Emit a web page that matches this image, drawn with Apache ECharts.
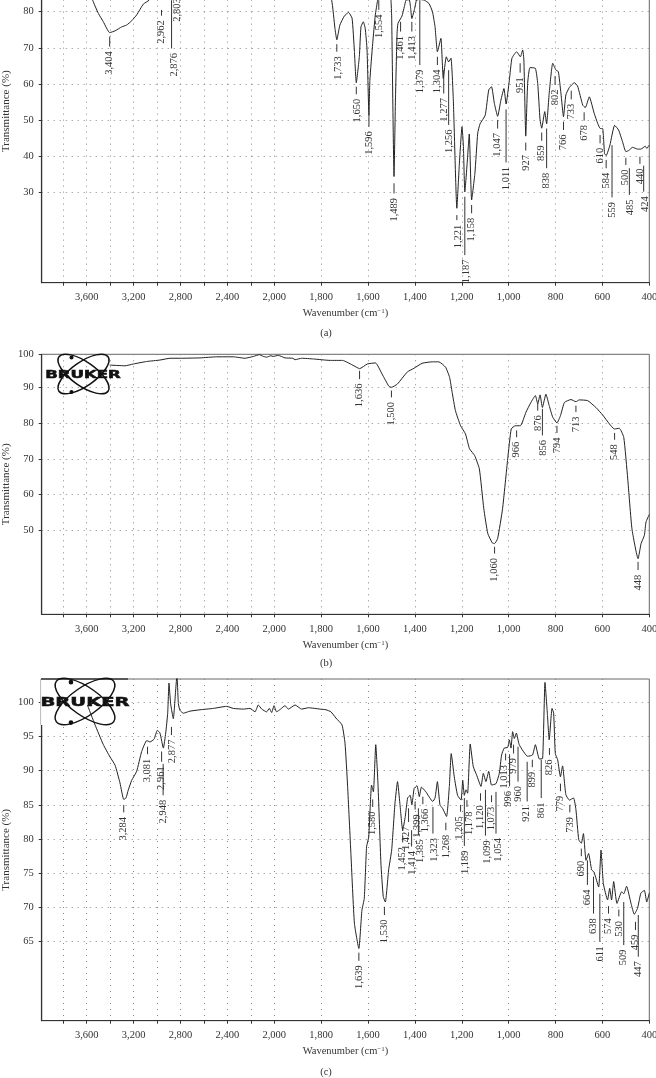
<!DOCTYPE html>
<html>
<head>
<meta charset="utf-8">
<style>html,body{margin:0;padding:0;background:#fff}#chart{width:656px;height:1078px}</style>
<script src="https://cdn.jsdelivr.net/npm/echarts@6/dist/echarts.min.js"></script>
</head>
<body>
<div id="chart"></div>
<script>
// FTIR spectra: wavenumber (cm-1) and transmittance (%) for samples a, b and c.
const waveA = [3980,3800,3600,3549,3500,3458,3404,3358,3301,3259,3216,3174,3117,3068,3000,2962,2930,2876,2840,2803,2760,2400,2000,1800,1755,1741,1733,1720,1701,1683,1668,1658,1650,1637,1630,1620,1612,1604,1596,1592,1580,1569,1559,1554,1540,1515,1502,1499,1489,1483,1476,1472,1455,1445,1438,1424,1418,1413,1401,1393,1379,1360,1340,1325,1314,1304,1289,1279,1266,1256,1246,1236,1221,1211,1199,1193,1187,1176,1168,1158,1144,1132,1122,1100,1085,1073,1061,1047,1033,1020,1011,997,986,966,950,940,935,927,919,909,886,876,866,859,846,838,827,812,798,788,777,766,756,741,720,706,684,673,656,635,620,609,599,591,584,568,548,531,514,500,488,471,450,436,417,411,400];
const transA = [96,96,90,83.2,79.5,77.2,74.2,74.7,75.8,76.3,77.5,79.1,82.1,83.2,87,85.5,88,85,88,86.5,92,96,96,93,83.2,75.4,72.2,76.3,78.8,79.8,78.2,69,60.3,67.5,75.8,77.2,75.4,69.4,51.3,61,71.2,79,83.2,85,92,96,83.2,78.5,34.3,55.5,74,76.8,78.8,81.4,83.2,83.3,80.9,78.1,80.9,83.2,83.4,83.2,82.3,80,75.8,68.9,72.6,61.5,67.5,66.1,67.1,55.5,25.5,37,48.1,42.6,30,38.9,46.1,27.8,35.2,46.3,48.9,51.3,58.3,59.2,54.6,51,55.5,58.7,54.4,61,67.1,68.9,67.5,69.4,66.6,45.5,60.1,64.5,64.3,60.1,50,47.7,52.3,48.9,57.4,65.7,63.8,63.4,57.4,50.9,56.9,59,60.3,59.4,54.1,53.4,56.4,51.8,49,47.6,47.6,40.7,40.1,43,48.5,47.2,43.9,41.2,41.5,42.4,41.9,41.9,42.7,42.1,43];
const waveB = [3404,3273,3202,3088,2975,2889,2804,2633,2491,2349,2250,2178,2127,2100,2065,2030,2008,1983,1954,1921,1911,1883,1833,1761,1709,1660,1636,1603,1568,1540,1511,1500,1475,1432,1404,1369,1326,1298,1269,1252,1241,1227,1205,1184,1167,1145,1125,1106,1089,1070,1060,1047,1026,1004,989,972,950,926,905,886,876,866,856,841,827,812,794,779,762,734,713,699,663,628,599,570,549,528,509,492,474,448,435,421,414,400];
const transB = [96.1,95.9,96.4,97.1,97.5,98,98,98.1,98.4,98.4,98,98.5,99,98.6,98.3,98.7,98.5,98.8,98.1,98,97.6,98,97.8,97.4,97.4,95.9,95.1,96.4,96.7,93.6,90.2,89.9,90.8,94.2,95.2,96.6,97,97,95.5,92.7,88.5,83.4,79.2,76.9,72.8,70.9,67.2,56.1,49.2,46.6,46.4,47.8,56.1,70,78.3,79.2,79.2,83,85.7,87.6,85.3,87.8,84.3,88,84.8,81.6,80,82,85.7,86.5,85.9,86.4,86.2,84.3,82.2,79.7,78.3,78.5,76,64.4,50.5,42.2,46.4,48.7,52.4,54.5];
const waveC = [3594,3529,3458,3401,3358,3316,3284,3265,3245,3216,3174,3131,3088,3060,3026,2997,2975,2946,2926,2909,2898,2884,2861,2841,2830,2818,2804,2775,2719,2633,2520,2406,2349,2264,2207,2164,2136,2107,2065,2042,2022,2002,1990,1973,1954,1940,1911,1883,1854,1804,1779,1758,1737,1711,1698,1687,1673,1658,1639,1626,1616,1606,1597,1590,1585,1577,1567,1557,1545,1535,1526,1512,1499,1485,1474,1464,1452,1441,1431,1420,1413,1403,1391,1381,1372,1353,1324,1314,1304,1293,1282,1265,1253,1245,1232,1218,1203,1196,1189,1182,1175,1164,1151,1137,1118,1108,1097,1085,1073,1054,1040,1030,1019,1004,997,990,983,976,967,955,919,898,886,869,855,845,835,827,815,808,801,791,779,770,756,741,723,713,701,690,681,670,659,646,636,616,606,596,578,569,561,552,538,518,509,497,478,464,450,436,421,411,400];
const transC = [99.6,96.7,93.8,92,90.8,88.2,85.8,86,87.2,88.6,89.9,92.8,94.4,94.2,94.6,95.9,95.5,93.3,95.5,98.4,102.8,99.8,97.6,101.8,104,99.8,98.8,98.4,98.7,98.9,99.1,99.4,99.1,99,99.1,98.6,99.6,99,98.6,99.1,98.5,99.5,98.6,99,99.5,99,99.6,99,99.2,99,98.9,98.6,97.7,96.7,94,87.7,77.9,67.7,64,69.6,71.3,78.9,80.3,85.2,87.9,86.9,93.8,87.7,76.5,71.6,70.8,75.5,78.4,85.2,88.4,85.2,81.3,83.3,86,86.4,85,87.4,87.8,86.2,87.6,86.9,85.5,86,88.4,85,84.5,83.3,87.7,92.5,89.1,86.4,85.7,88.6,86.4,87.2,86.7,93.9,90.6,89.4,87.7,89.6,88.4,89.9,87.9,88.1,89.6,92.3,93.3,93.4,94.5,93.3,95.7,94.7,95.5,93.8,92.1,92.3,93.8,91.7,91.8,102.9,98.4,94.5,99.1,98.4,92.5,91.6,89.1,90.7,86.5,85.7,86,84.3,79.9,79.4,80.8,76.9,77.9,75.5,75.2,73,78.4,73.5,71.1,72.8,71.1,73.8,70.6,72.3,72,73.1,70.6,69,69.9,72.1,72.5,70.8,72.1];

// Peak tables: wavenumber, top and bottom of the pointer line in transmittance (%).
const peaksA = [[3404,73.1,70.3],[2962,80.5,78.9],[2876,83.2,69.8],[2803,87,85],[1733,71,68.9],[1650,59.2,57.1],[1596,51.4,48.1],[1554,83.2,80.5],[1489,32.4,29.6],[1461,77.2,74.5],[1413,77.2,74.5],[1379,83.2,65.2],[1304,67.5,65.2],[1277,63.8,57.3],[1256,63.8,48.6],[1221,23.6,22.2],[1187,28.7,12.5],[1158,26.4,24.1],[1047,50,47.6],[1011,52.9,38.2],[951,65.7,63.1],[927,43.7,41.5],[859,46.5,44.2],[838,47.6,36.6],[802,62.2,59.7],[766,49.5,47.2],[733,58.1,55.7],[678,52.1,49.8],[610,45.8,43.5],[584,38.9,36.6],[559,43,28.5],[500,39.5,37.5],[485,36.6,29.2],[440,39.8,37.8],[424,37.3,30.1]];
const peaksB = [[1636,94.5,92.2],[1500,89,87.1],[1060,45.5,43.6],[966,77.9,76],[876,85.5,83.4],[856,83.9,76.5],[794,79.2,77.2],[713,84.8,83],[548,77.2,75.3],[448,41.3,39]];
const peaksC = [[3284,85,83.9],[3081,93.5,92.4],[2961,92.8,91.3],[2948,91,86.4],[2877,96.4,95.2],[1639,63.4,62.2],[1580,85.8,84.7],[1530,70.1,68.9],[1452,80.5,79.5],[1427,84.5,82.5],[1414,81.3,78.9],[1399,85.5,84.3],[1385,84.5,80.6],[1366,86.2,85.1],[1323,84.7,80.8],[1268,82.4,81.3],[1205,85,84],[1189,86,79],[1178,85.7,84.7],[1120,86.7,85.6],[1099,87.2,80.5],[1073,86.4,85.4],[1054,86.9,80.8],[1013,92.5,91.5],[996,92.4,87.7],[979,93.8,92.5],[960,93.5,88.4],[921,91.3,85.5],[899,91.6,90.5],[861,91.6,86],[826,93.3,92.3],[779,88.1,87],[739,85,83.9],[690,78.6,77.5],[664,76.9,73.3],[638,74.5,69.1],[611,72,65],[574,70.2,69.1],[530,69.7,68.7],[509,70.8,64.5],[459,67.9,66.7],[447,68.9,62.8]];

const tickWavenumbers = [400,600,800,1000,1200,1400,1600,1800,2000,2200,2400,2600,2800,3000,3200,3400,3600,3800];
const labelWavenumbers = [400,600,800,1000,1200,1400,1600,1800,2000,2400,2800,3200,3600];
const yTicksA = [30,40,50,60,70,80];
const yTicksB = [50,60,70,80,90,99.1];
const yTicksC = [65,70,75,80,85,90,95,100];

const INK = '#333';
const SERIF = '"Liberation Serif", serif';
const DOTS = {color: '#888', width: 1, type: [1, 5]};
const FONT = 10.5;

// The instrument plots above 2000 cm-1 at half scale, so the axis runs on a folded coordinate.
const fold = w => (w <= 2000 ? w : 2000 + (w - 2000) / 2);
const unfold = u => (u <= 2000 ? u : 2000 + (u - 2000) * 2);
const AXIS_END = 2992;

// Labels pushed sideways where neighbours would collide (px).
const labelNudge = {
  a: {2876: 3, 2803: -3, 1733: 1, 1650: 1, 1256: 1, 1277: 1, 485: 1, 500: -1, 424: 2, 1221: 1, 1187: 1},
  b: {876: 1, 856: 1},
  c: {1427: -2, 1399: 2, 1385: 2, 1366: 2, 1414: 1, 1099: 2, 1054: 2, 1323: 1, 1178: 2, 2877: 1, 996: -1, 1013: -1, 921: -1, 1205: -1, 1189: 1}
};

const grids = [
  {left: 41.7, width: 607.6, top: -60.4, height: 343.1, min: 4.85, max: 100, ticks: yTicksA, wave: waveA, trans: transA, peaks: peaksA, nudge: labelNudge.a},
  {left: 41.7, width: 607.6, top: 354.3, height: 260, min: 26.7, max: 99.1, ticks: yTicksB, wave: waveB, trans: transB, peaks: peaksB, nudge: labelNudge.b},
  {left: 41.7, width: 607.6, top: 679, height: 341.7, min: 53.45, max: 103.4, ticks: yTicksC, wave: waveC, trans: transC, peaks: peaksC, nudge: labelNudge.c}
];

function peakRenderer(panel) {
  return function (params, api) {
    const row = panel.peaks[params.dataIndex];
    const top = api.coord([fold(row[0]), row[1]]);
    const bottom = api.coord([fold(row[0]), row[2]]);
    const shift = panel.nudge[row[0]] || 0;
    return {
      type: 'group',
      children: [
        {type: 'line', shape: {x1: top[0], y1: top[1], x2: bottom[0], y2: bottom[1]},
         style: {stroke: INK, lineWidth: 1}},
        {type: 'text', x: top[0] + shift, y: bottom[1] + 4.5, rotation: Math.PI / 2,
         style: {text: row[0].toLocaleString('en-US'), fill: INK, font: FONT + 'px ' + SERIF,
                 textAlign: 'right', textVerticalAlign: 'middle'}}
      ]
    };
  };
}

// Logo: two crossed orbits, two electrons, wide bold wordmark.
function logo(cx, cy, k, textWidth) {
  const parts = [];
  [35, -35].forEach(deg => parts.push({
    type: 'ellipse', z: 1, x: cx, y: cy, rotation: deg * Math.PI / 180,
    shape: {cx: 0, cy: 0, rx: 30 * k, ry: 12 * k},
    style: {fill: 'transparent', stroke: '#111', lineWidth: 1.5}
  }));
  [[-12, -16.5], [-12, 18]].forEach(p => parts.push({
    type: 'circle', z: 1, shape: {cx: cx + p[0] * k, cy: cy + p[1] * k, r: 2 * k}, style: {fill: '#111'}
  }));
  const size = 10 * k;
  parts.push({
    type: 'text', z: 1, x: cx + (k > 1 ? 0 : -0.5), y: cy + 1, scaleX: textWidth / (4.35 * size),
    style: {text: 'BRUKER', fill: '#111', font: 'bold ' + size + 'px "DejaVu Sans"', textAlign: 'center', textVerticalAlign: 'middle',
            stroke: '#111', lineWidth: 0.5}
  });
  return parts;
}

const option = {
  backgroundColor: '#fff',
  animation: false,
  grid: grids.map(g => ({left: g.left, width: g.width, top: g.top, height: g.height, show: true, outerBoundsMode: 'none',
    containLabel: false, borderColor: '#666', borderWidth: 1, backgroundColor: 'transparent'})),
  xAxis: grids.map((g, i) => ({
    gridIndex: i, type: 'value', inverse: true, min: 400, max: AXIS_END,
    name: '{t|Wavenumber (cm}{s|−1}{t|)}', nameLocation: 'middle', nameGap: 25, nameMoveOverlap: false,
    nameTextStyle: {rich: {t: {fontFamily: SERIF, fontSize: 10.5, color: INK},
                           s: {fontFamily: SERIF, fontSize: 7, color: INK, verticalAlign: 'top', lineHeight: 12}}},
    axisLine: {show: true, onZero: false, lineStyle: {color: INK, width: 1.2}},
    axisTick: {show: true, length: 3, customValues: tickWavenumbers.map(fold), lineStyle: {color: INK}},
    axisLabel: {show: true, margin: 9, fontFamily: SERIF, fontSize: FONT, color: INK, hideOverlap: false,
      customValues: labelWavenumbers.map(fold),
      formatter: v => unfold(v).toLocaleString('en-US')},
    splitLine: {show: true, lineStyle: DOTS}
  })),
  yAxis: grids.map((g, i) => ({
    gridIndex: i, type: 'value', min: g.min, max: g.max,
    name: 'Transmittance (%)', nameLocation: 'middle', nameGap: 30, nameRotate: 90, nameMoveOverlap: false,
    nameTextStyle: {fontFamily: SERIF, fontSize: 11, color: INK},
    axisLine: {show: true, onZero: false, lineStyle: {color: INK, width: 1.2}},
    axisTick: {show: true, length: 3, customValues: g.ticks, lineStyle: {color: INK}},
    axisLabel: {show: true, margin: 8, fontFamily: SERIF, fontSize: FONT, color: INK, customValues: g.ticks,
      formatter: v => (v >= 99 ? '100' : String(v))},
    splitLine: {show: true, lineStyle: DOTS}
  })),
  series: grids.flatMap((g, i) => [
    {type: 'line', xAxisIndex: i, yAxisIndex: i, showSymbol: false, symbol: 'none', smooth: 0.15, clip: true, z: 3,
     lineStyle: {color: '#222', width: 1}, data: g.wave.map((w, k) => [fold(w), g.trans[k]])},
    {type: 'custom', xAxisIndex: i, yAxisIndex: i, clip: false, z: 4, renderItem: peakRenderer(g),
     encode: {x: 0, y: 1}, data: g.peaks.map(p => [fold(p[0]), p[1], p[2]])}
  ]),
  graphic: {elements: [
    ...[['(a)', 333], ['(b)', 663], ['(c)', 1072]].map(c => ({type: 'text', x: 326, y: c[1], z: 5,
      style: {text: c[0], fill: INK, font: '10.5px ' + SERIF, textAlign: 'center', textVerticalAlign: 'middle'}})),
    // Bruker logo on panel b
    ...logo(83.5, 374, 1, 72),
    // Bruker logo on panel c, on a white plate that masks the frame corner
    {type: 'rect', z: 1, shape: {x: 41, y: 672, width: 87, height: 53}, style: {fill: '#fff'}},
    {type: 'line', z: 1, shape: {x1: 41, y1: 679, x2: 128, y2: 679}, style: {stroke: '#222', lineWidth: 1.3}},
    {type: 'line', z: 1, shape: {x1: 40.6, y1: 679, x2: 40.6, y2: 725}, style: {stroke: '#bbb', lineWidth: 1}},
    ...logo(85, 701.5, 1.17, 85)
  ]}
};

echarts.init(document.getElementById('chart'), null, {renderer: 'canvas'}).setOption(option);
</script>
</body>
</html>
